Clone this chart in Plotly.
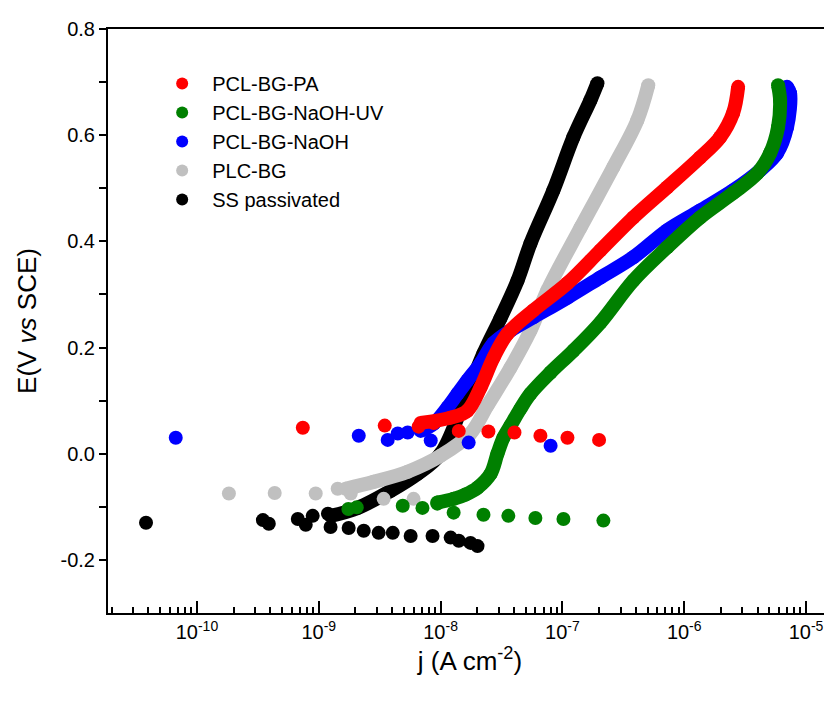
import plotly.graph_objects as go

# ---- data (j in A cm-2, E in V vs SCE) ----
# dense part of each polarisation curve
pa_curve_j = [6.86e-9, 1.21e-8, 1.66e-8, 2.13e-8, 2.72e-8, 3.54e-8, 5.78e-8, 1.10e-7,
              2.05e-7, 3.82e-7, 7.26e-7, 1.35e-6, 1.97e-6, 2.52e-6, 2.77e-6]
pa_curve_e = [0.058, 0.068, 0.081, 0.125, 0.181, 0.226, 0.270, 0.321,
              0.383, 0.445, 0.502, 0.558, 0.596, 0.642, 0.691]
pa_dots_j = [7.4e-10, 3.48e-9, 6.6e-9, 8.8e-9, 1.41e-8, 2.47e-8, 4.04e-8, 6.6e-8, 1.10e-7, 2.0e-7]
pa_dots_e = [0.049, 0.053, 0.051, 0.058, 0.043, 0.042, 0.040, 0.034, 0.030, 0.026]

uv_curve_j = [9.4e-9, 1.28e-8, 1.60e-8, 2.01e-8, 2.57e-8, 2.93e-8, 3.28e-8, 3.75e-8, 4.53e-8,
              5.47e-8, 7.98e-8, 1.23e-7, 2.05e-7, 3.82e-7, 7.26e-7, 1.35e-6, 2.52e-6,
              3.97e-6, 5.07e-6, 5.89e-6, 6.12e-6, 5.89e-6]
uv_curve_e = [-0.092, -0.085, -0.077, -0.064, -0.038, 0.0, 0.030, 0.053, 0.085,
              0.113, 0.153, 0.194, 0.247, 0.326, 0.389, 0.445, 0.491,
              0.528, 0.566, 0.615, 0.666, 0.694]
uv_dots_j = [1.75e-9, 2.05e-9, 4.89e-9, 7.1e-9, 9.4e-9, 1.28e-8, 2.25e-8, 3.6e-8, 6.0e-8, 1.02e-7, 2.17e-7]
uv_dots_e = [-0.104, -0.101, -0.098, -0.102, -0.094, -0.111, -0.115, -0.117, -0.121, -0.123, -0.126]

naoh_curve_j = [6.86e-9, 8.8e-9, 1.14e-8, 1.38e-8, 1.66e-8, 2.13e-8, 2.72e-8, 3.75e-8, 5.78e-8,
                1.10e-7, 2.05e-7, 3.82e-7, 7.26e-7, 1.35e-6, 2.52e-6, 4.2e-6, 5.78e-6,
                6.98e-6, 7.39e-6, 6.98e-6]
naoh_curve_e = [0.043, 0.057, 0.087, 0.113, 0.138, 0.170, 0.208, 0.232, 0.257,
                0.294, 0.332, 0.370, 0.421, 0.458, 0.496, 0.534, 0.566,
                0.615, 0.679, 0.691]
naoh_dots_j = [6.7e-11, 2.13e-9, 3.68e-9, 4.45e-9, 5.37e-9, 8.3e-9, 1.70e-8, 8.0e-8]
naoh_dots_e = [0.030, 0.034, 0.026, 0.038, 0.040, 0.025, 0.021, 0.015]

bg_curve_j = [1.66e-9, 2.82e-9, 5.37e-9, 1.0e-8, 1.76e-8, 2.43e-8, 3.75e-8, 5.47e-8,
              7.54e-8, 1.41e-7, 2.62e-7, 4.12e-7, 5.07e-7]
bg_curve_e = [-0.066, -0.053, -0.034, -0.004, 0.038, 0.091, 0.162, 0.232,
              0.308, 0.426, 0.540, 0.628, 0.694]
bg_dots_j = [1.83e-10, 4.35e-10, 9.44e-10, 1.43e-9, 1.83e-9, 3.41e-9, 6.0e-9]
bg_dots_e = [-0.075, -0.074, -0.075, -0.066, -0.075, -0.085, -0.085]

ss_curve_j = [1.25e-9, 2.09e-9, 3.89e-9, 6.47e-9, 1.0e-8, 1.51e-8, 2.25e-8, 3.10e-8,
              4.28e-8, 5.47e-8, 8.43e-8, 1.23e-7, 1.70e-7, 1.94e-7]
ss_curve_e = [-0.117, -0.102, -0.070, -0.038, 0.0, 0.091, 0.189, 0.255,
              0.326, 0.396, 0.496, 0.596, 0.666, 0.698]
ss_dots_j = [3.82e-11, 3.48e-10, 3.89e-10, 6.73e-10, 7.82e-10, 8.92e-10, 1.19e-9, 1.25e-9,
             1.76e-9, 2.34e-9, 3.10e-9, 4.05e-9, 5.68e-9, 8.59e-9, 1.21e-8, 1.41e-8,
             1.76e-8, 2.01e-8]
ss_dots_e = [-0.130, -0.125, -0.132, -0.123, -0.134, -0.117, -0.113, -0.138,
             -0.140, -0.145, -0.149, -0.149, -0.155, -0.155, -0.158, -0.164,
             -0.168, -0.174]

x_tickvals = [1e-10, 1e-9, 1e-8, 1e-7, 1e-6, 1e-5]
x_ticktext = ["10<sup>-10</sup>", "10<sup>-9</sup>", "10<sup>-8</sup>",
              "10<sup>-7</sup>", "10<sup>-6</sup>", "10<sup>-5</sup>"]

# drawn bottom to top, legend shown reversed
series = [
    ("SS passivated", "black", ss_curve_j, ss_curve_e, ss_dots_j, ss_dots_e),
    ("PLC-BG", "#c0c0c0", bg_curve_j, bg_curve_e, bg_dots_j, bg_dots_e),
    ("PCL-BG-NaOH", "#0000ff", naoh_curve_j, naoh_curve_e, naoh_dots_j, naoh_dots_e),
    ("PCL-BG-NaOH-UV", "#008000", uv_curve_j, uv_curve_e, uv_dots_j, uv_dots_e),
    ("PCL-BG-PA", "#ff0000", pa_curve_j, pa_curve_e, pa_dots_j, pa_dots_e),
]

fig = go.Figure()
for name, color, cj, ce, dj, de in series:
    fig.add_trace(go.Scatter(x=cj, y=ce, mode="lines+markers", showlegend=False,
                             line=dict(color=color, width=14, shape="spline"),
                             marker=dict(color=color, size=14), hoverinfo="skip"))
    fig.add_trace(go.Scatter(x=dj, y=de, mode="markers", name=name,
                             marker=dict(color=color, size=14)))

font = "Liberation Sans, Arial, sans-serif"
# page body adds an 8px offset, so the figure is 8px smaller than the window
fig.update_layout(
    width=824, height=696,
    margin=dict(l=100, r=0, t=21, b=91),
    paper_bgcolor="white", plot_bgcolor="white",
    font=dict(family=font, color="black", size=20),
    legend=dict(x=0.061, y=0.94, xanchor="left", yanchor="top",
                traceorder="reversed", font=dict(size=20), itemwidth=50,
                bgcolor="rgba(0,0,0,0)", itemsizing="constant", tracegroupgap=0),
)
fig.update_xaxes(type="log", range=[-10.73, -4.787],
                 tickvals=x_tickvals, ticktext=x_ticktext,
                 ticks="inside", ticklen=12, tickwidth=1.5, tickcolor="black",
                 minor=dict(ticks="inside", ticklen=6, tickwidth=1.5, tickcolor="black",
                            dtick="D1", showgrid=False),
                 showline=True, linewidth=2, linecolor="black", mirror=True,
                 showgrid=False, zeroline=False, tickfont=dict(size=20),
                 title=dict(text="j (A cm<sup>-2</sup>)", font=dict(size=26), standoff=8))
fig.update_yaxes(range=[-0.3, 0.8], tickvals=[-0.2, 0.0, 0.2, 0.4, 0.6, 0.8],
                 ticktext=["-0.2", "0.0", "0.2", "0.4", "0.6", "0.8"],
                 ticks="outside", ticklen=7, tickwidth=1.5, tickcolor="black",
                 minor=dict(ticks="outside", ticklen=7, tickwidth=1.5, tickcolor="black",
                            tickvals=[-0.1, 0.1, 0.3, 0.5, 0.7], showgrid=False),
                 showline=True, linewidth=2, linecolor="black", mirror=False,
                 showgrid=False, zeroline=False, tickfont=dict(size=20),
                 title=dict(text="E(V <i>vs</i> SCE)", font=dict(size=26), standoff=16))

fig.write_html("out.html")
